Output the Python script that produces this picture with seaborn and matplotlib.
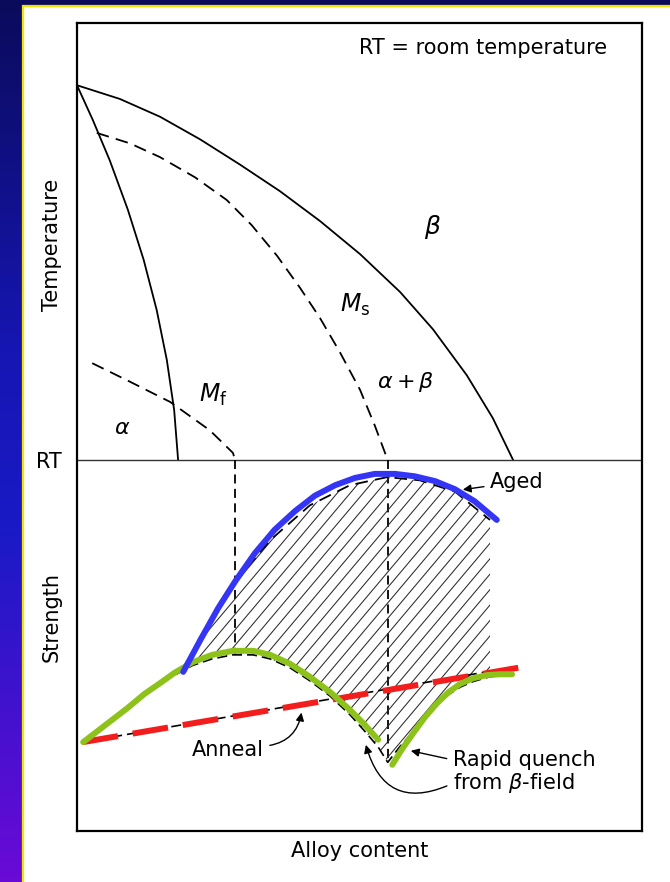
import numpy as np
import pandas as pd
import seaborn as sns
import matplotlib.pyplot as plt
from matplotlib.patches import Rectangle, Polygon
from matplotlib.colors import LinearSegmentedColormap

# Schematic scale: x = alloy content (0-100), y = 0-100, room temperature line at RT
RT = 45.9

# Upper part (temperature): phase boundaries
beta_x = [0, 7.6, 14.7, 21.8, 28.8, 35.9, 43.0, 50.1, 57.2, 63.0, 69.0, 73.6, 77.2]
beta_y = [92.3, 90.6, 88.4, 85.6, 82.5, 79.2, 75.5, 71.4, 66.7, 62.1, 56.4, 51.1, 45.9]

alpha_x = [0, 2.8, 5.8, 9.0, 11.8, 14.1, 15.9, 17.2, 17.9]
alpha_y = [92.3, 88.0, 83.0, 76.9, 70.7, 64.5, 58.3, 52.1, 45.9]

ms_x = [3.5, 9.4, 14.7, 20.9, 26.5, 30.9, 35.4, 39.5, 43.0, 46.5, 50.1, 52.7, 55.0]
ms_y = [86.4, 85.1, 83.4, 80.9, 78.1, 75.0, 71.2, 67.2, 63.5, 59.3, 54.6, 50.2, 45.9]

mf_x = [2.7, 9.4, 16.5, 23.5, 27.6, 28.0]
mf_y = [57.9, 55.6, 53.1, 49.6, 46.8, 45.9]

# Lower part (strength)
aged_x = [18.8, 23.0, 28.3, 34.2, 41.2, 48.3, 54.9, 60.7, 66.9, 73.1]
aged_y = [20.2, 25.2, 31.1, 36.0, 40.3, 42.8, 43.8, 43.4, 42.0, 38.5]

quench_x = [12.9, 17.3, 20.5, 23.9, 27.6, 31.2, 34.2, 37.7, 41.2, 44.8, 48.3, 51.0, 53.3, 55.0,
            57.1, 59.5, 61.6, 63.7, 65.8, 67.8, 70.1, 72.6, 75.8]
quench_y = [17.5, 19.3, 20.5, 21.3, 21.8, 21.8, 21.3, 20.2, 18.6, 16.7, 14.4, 12.3, 10.4, 8.5,
            10.4, 12.3, 14.1, 15.7, 16.9, 17.8, 18.5, 19.0, 19.4]

anneal_x = [1.0, 76.6]
anneal_y = [11.0, 20.2]

# coloured overlay lines
blue_x = [18.8, 21.8, 25.0, 28.0, 31.5, 35.0, 38.6, 42.1, 45.7, 49.2, 52.7, 56.3, 59.8, 63.4,
          66.9, 70.4, 74.3]
blue_y = [19.7, 23.6, 27.6, 30.9, 34.4, 37.3, 39.6, 41.5, 42.8, 43.7, 44.2, 44.2, 43.9, 43.3,
          42.3, 40.8, 38.5]

green1_x = [1.1, 5.0, 8.9, 12.0, 14.7, 17.3, 20.5, 23.9, 27.6, 31.2, 34.2, 37.7, 41.2, 44.8,
            48.3, 51.0, 53.3]
green1_y = [11.0, 13.1, 15.2, 17.0, 18.3, 19.6, 20.9, 21.8, 22.3, 22.3, 21.8, 20.7, 19.1, 17.2,
            15.0, 13.1, 11.3]

green2_x = [55.8, 57.5, 59.5, 61.6, 63.7, 65.8, 67.8, 70.1, 72.6, 74.9, 77.0]
green2_y = [8.2, 10.1, 12.1, 14.1, 15.8, 17.2, 18.2, 18.9, 19.3, 19.4, 19.4]

red_x = [1.0, 78.9]
red_y = [11.0, 20.3]

sns.set_style("white")
plt.rcParams['font.family'] = ['DejaVu Sans']
plt.rcParams['mathtext.fontset'] = 'dejavusans'
plt.rcParams['text.color'] = 'black'
plt.rcParams['axes.labelcolor'] = 'black'
plt.rcParams['ytick.color'] = 'black'

fig = plt.figure(figsize=(6.7, 8.82), dpi=100)

# background: blue/purple gradient with white panel
bg = fig.add_axes([0, 0, 1, 1], zorder=-10)
cmap = LinearSegmentedColormap.from_list(
    "bg", [(0.0, "#0b0b5c"), (0.4, "#1616b4"), (0.6, "#1a1ac6"), (1.0, "#6a0ad6")])
grad = np.linspace(0, 1, 256).reshape(-1, 1)
bg.imshow(grad, cmap=cmap, aspect='auto', extent=[0, 1, 0, 1], origin='upper')
bg.add_patch(Rectangle((0.0343, -0.01), 1.0, 0.9932 + 0.01, facecolor='white',
                       edgecolor='#f2e400', linewidth=1.6))
bg.set_xlim(0, 1)
bg.set_ylim(0, 1)
bg.axis('off')

ax = fig.add_axes([0.1149, 0.0578, 0.8433, 0.9161])
ax.set_facecolor('white')
ax.set_xlim(0, 100)
ax.set_ylim(0, 100)

dash = (0, (7, 4))

# temperature part
sns.lineplot(x=beta_x, y=beta_y, sort=False, estimator=None, color='black', linewidth=1.3, ax=ax)
sns.lineplot(x=alpha_x, y=alpha_y, sort=False, estimator=None, color='black', linewidth=1.3, ax=ax)
sns.lineplot(x=ms_x, y=ms_y, sort=False, estimator=None, color='black', linewidth=1.3,
             linestyle=dash, ax=ax)
sns.lineplot(x=mf_x, y=mf_y, sort=False, estimator=None, color='black', linewidth=1.3,
             linestyle=dash, ax=ax)
ax.axhline(RT, color='#333333', linewidth=1.0)

# vertical dashed drops from Mf and Ms
ax.plot([mf_x[-1], mf_x[-1]], [RT, np.interp(mf_x[-1], quench_x, quench_y)],
        color='black', linewidth=1.3, linestyle=(0, (5, 3)))
ax.plot([ms_x[-1], ms_x[-1]], [RT, min(quench_y)],
        color='black', linewidth=1.3, linestyle=(0, (5, 3)))

# hatched region between aged and quench curves
qx = np.array(quench_x)
qy = np.array(quench_y)
keep = (qx >= aged_x[0]) & (qx < aged_x[-1])
verts = list(zip(aged_x, aged_y))
verts.append((aged_x[-1], np.interp(aged_x[-1], qx, qy)))
verts += list(zip(qx[keep][::-1], qy[keep][::-1]))
region = Polygon(verts, closed=True, facecolor='none', edgecolor='none')
ax.add_patch(region)
for c in np.arange(-90, 60, 1.91):
    ln, = ax.plot([0, 100], [c, c + 83], color='#2a2a2a', linewidth=0.75)
    ln.set_clip_path(region)

sns.lineplot(x=aged_x, y=aged_y, sort=False, estimator=None, color='black', linewidth=1.3,
             linestyle=dash, ax=ax)
sns.lineplot(x=quench_x, y=quench_y, sort=False, estimator=None, color='black', linewidth=1.2,
             linestyle=(0, (6, 3)), ax=ax)
sns.lineplot(x=anneal_x, y=anneal_y, sort=False, estimator=None, color='black', linewidth=1.2,
             linestyle=(0, (6, 3)), ax=ax)

# coloured overlays
sns.lineplot(x=red_x, y=red_y, sort=False, estimator=None, color='#f21d1d', linewidth=4.3,
             linestyle=(0, (6, 2.5)), ax=ax)
sns.lineplot(x=green1_x, y=green1_y, sort=False, estimator=None, color='#8dc21a', linewidth=4.3, ax=ax)
sns.lineplot(x=green2_x, y=green2_y, sort=False, estimator=None, color='#8dc21a', linewidth=4.3, ax=ax)
sns.lineplot(x=blue_x, y=blue_y, sort=False, estimator=None, color='#3535f5', linewidth=4.3, ax=ax)

# phase labels
ax.text(63.0, 74.8, r"$\beta$", fontsize=18, ha='center', va='center')
ax.text(49.2, 65.1, r"$M_\mathrm{s}$", fontsize=17, ha='center', va='center')
ax.text(58.1, 55.6, r"$\alpha+\beta$", fontsize=16, ha='center', va='center')
ax.text(24.1, 54.0, r"$M_\mathrm{f}$", fontsize=17, ha='center', va='center')
ax.text(8.0, 49.9, r"$\alpha$", fontsize=16, ha='center', va='center')
ax.text(93.8, 96.9, "RT = room temperature", fontsize=15, ha='right', va='center')

arrow = dict(arrowstyle='-|>', color='black', linewidth=1.0, mutation_scale=12)
ax.annotate("Aged", xy=(67.8, 42.2), xytext=(73.1, 43.2), fontsize=15, ha='left', va='center',
            arrowprops=arrow)
ax.annotate("Anneal", xy=(39.8, 15.0), xytext=(26.7, 10.0), fontsize=15, ha='center', va='center',
            arrowprops=dict(arrow, connectionstyle='arc3,rad=0.4', relpos=(1.0, 0.7)))
ax.annotate("Rapid quench", xy=(58.6, 10.0), xytext=(66.5, 8.8), fontsize=15, ha='left', va='center',
            arrowprops=dict(arrow, relpos=(0.0, 0.5)))
ax.annotate(r"from $\beta$-field", xy=(51.0, 11.0), xytext=(66.5, 5.9), fontsize=15, ha='left',
            va='center', arrowprops=dict(arrow, connectionstyle='arc3,rad=-0.6', relpos=(0.0, 0.5)))

# axis labels
ax.set_xticks([])
ax.set_yticks([RT])
ax.set_yticklabels(["RT"], fontsize=15)
ax.tick_params(axis='y', length=0, pad=11)
ax.set_xlabel("Alloy content", fontsize=15, labelpad=7)
ax.text(-0.044, 0.726, "Temperature", rotation=90, transform=ax.transAxes, ha='center',
        va='center', fontsize=15)
ax.text(-0.044, 0.265, "Strength", rotation=90, transform=ax.transAxes, ha='center',
        va='center', fontsize=15)

for s in ax.spines.values():
    s.set_visible(True)
    s.set_color('black')
    s.set_linewidth(1.6)

plt.savefig("out.png", dpi=100)
